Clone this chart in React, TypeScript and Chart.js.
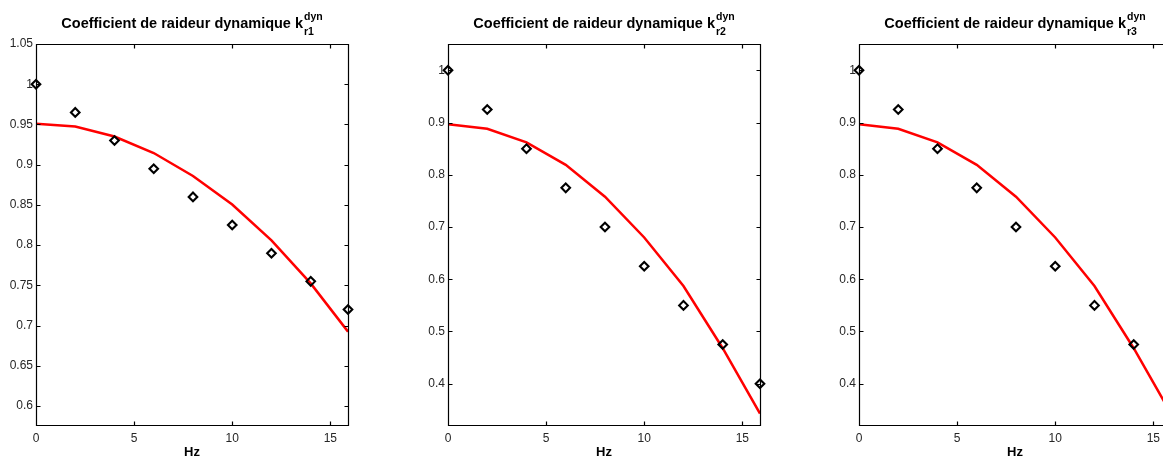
import React, { useEffect, useRef } from 'react';
import { Chart, registerables } from 'chart.js';

Chart.register(...registerables);

// ---- data ----
const FREQ = [0, 2, 4, 6, 8, 10, 12, 14, 15.9];

const K1_MEAS = [1.0, 0.965, 0.93, 0.895, 0.86, 0.825, 0.79, 0.755, 0.72];
const K1_MODEL = [0.951, 0.9475, 0.935, 0.9145, 0.886, 0.8505, 0.806, 0.7525, 0.6925];

const K2_MEAS = [1.0, 0.925, 0.85, 0.775, 0.7, 0.625, 0.55, 0.475, 0.4];
const K2_MODEL = [0.897, 0.888, 0.862, 0.819, 0.758, 0.68, 0.587, 0.468, 0.343];

const K3_MEAS = [1.0, 0.925, 0.85, 0.775, 0.7, 0.625, 0.55, 0.475, 0.4];
const K3_MODEL = [0.897, 0.888, 0.862, 0.819, 0.758, 0.68, 0.587, 0.468, 0.343];

const X_TICKS = [0, 5, 10, 15];
const X_TICK_LABELS = ['0', '5', '10', '15'];

const Y1_TICKS = [0.6, 0.65, 0.7, 0.75, 0.8, 0.85, 0.9, 0.95, 1.0, 1.05];
const Y1_TICK_LABELS = ['0.6', '0.65', '0.7', '0.75', '0.8', '0.85', '0.9', '0.95', '1', '1.05'];

const Y23_TICKS = [0.4, 0.5, 0.6, 0.7, 0.8, 0.9, 1.0];
const Y23_TICK_LABELS = ['0.4', '0.5', '0.6', '0.7', '0.8', '0.9', '1'];

const TITLE_MAIN = 'Coefficient de raideur dynamique k';
const TITLE_SUP = 'dyn';
const TITLE_SUBS = ['r1', 'r2', 'r3'];
const X_LABEL = 'Hz';

const FONT = '"Liberation Sans", Arial, Helvetica, sans-serif';

type PanelProps = {
  left: number;
  meas: number[];
  model: number[];
  yMin: number;
  yMax: number;
  yTicks: number[];
  yLabels: string[];
  sub: string;
};

function Panel({ left, meas, model, yMin, yMax, yTicks, yLabels, sub }: PanelProps) {
  const ref = useRef<HTMLCanvasElement | null>(null);

  useEffect(() => {
    const canvas = ref.current;
    if (!canvas) return;

    const framePlugin = {
      id: 'matlabFrame',
      afterDatasetsDraw(chart: any) {
        const { ctx, chartArea } = chart;
        const l = Math.round(chartArea.left) + 0.5;
        const r = Math.round(chartArea.right) + 0.5;
        const t = Math.round(chartArea.top) + 0.5;
        const b = Math.round(chartArea.bottom) + 0.5;
        const tl = 4;
        ctx.save();
        ctx.strokeStyle = '#000';
        ctx.lineWidth = 1.2;
        ctx.beginPath();
        ctx.rect(l, t, r - l, b - t);
        const xs = chart.scales.x;
        xs.ticks.forEach((tk: any) => {
          const px = Math.round(xs.getPixelForValue(tk.value)) + 0.5;
          ctx.moveTo(px, b);
          ctx.lineTo(px, b - tl);
          ctx.moveTo(px, t);
          ctx.lineTo(px, t + tl);
        });
        const ys = chart.scales.y;
        ys.ticks.forEach((tk: any) => {
          const py = Math.round(ys.getPixelForValue(tk.value)) + 0.5;
          ctx.moveTo(l, py);
          ctx.lineTo(l + tl, py);
          ctx.moveTo(r, py);
          ctx.lineTo(r - tl, py);
        });
        ctx.stroke();
        ctx.restore();
      },
    };

    const titlePlugin = {
      id: 'scriptTitle',
      afterDraw(chart: any) {
        const { ctx, chartArea } = chart;
        ctx.save();
        ctx.fillStyle = '#000';
        ctx.textBaseline = 'alphabetic';
        ctx.textAlign = 'left';
        const mainFont = `bold 14.5px ${FONT}`;
        const scriptFont = `bold 10.5px ${FONT}`;
        ctx.font = mainFont;
        const wMain = ctx.measureText(TITLE_MAIN).width;
        ctx.font = scriptFont;
        const wSup = ctx.measureText(TITLE_SUP).width;
        const wSub = ctx.measureText(sub).width;
        const total = wMain + 1 + Math.max(wSup, wSub);
        const cx = (chartArea.left + chartArea.right) / 2;
        const x0 = cx - total / 2;
        ctx.font = mainFont;
        ctx.fillText(TITLE_MAIN, x0, 28);
        ctx.font = scriptFont;
        ctx.fillText(TITLE_SUP, x0 + wMain + 1, 20);
        ctx.fillText(sub, x0 + wMain + 1, 35);
        ctx.restore();
      },
    };

    const chart = new Chart(canvas, {
      type: 'scatter',
      data: {
        datasets: [
          {
            type: 'scatter',
            data: FREQ.map((x, i) => ({ x, y: meas[i] })),
            pointStyle: 'rectRot',
            pointRadius: 4.3,
            borderWidth: 2.1,
            borderColor: '#000',
            backgroundColor: 'rgba(0,0,0,0)',
            order: 0,
            clip: false,
          } as any,
          {
            type: 'line',
            data: FREQ.map((x, i) => ({ x, y: model[i] })),
            borderColor: '#ff0000',
            borderWidth: 2.5,
            pointRadius: 0,
            tension: 0,
            fill: false,
            order: 1,
          } as any,
        ],
      },
      options: {
        responsive: false,
        maintainAspectRatio: false,
        animation: false,
        events: [],
        layout: { padding: { top: 44, right: 52, left: 0, bottom: 0 } },
        plugins: {
          legend: { display: false },
          tooltip: { enabled: false },
          title: { display: false },
        },
        scales: {
          x: {
            type: 'linear',
            min: 0,
            max: 15.9,
            grid: { display: false, drawTicks: false },
            border: { display: false },
            afterBuildTicks: (s: any) => {
              s.ticks = X_TICKS.map((value) => ({ value }));
            },
            afterFit: (s: any) => {
              s.height = 35;
            },
            ticks: {
              autoSkip: false,
              maxRotation: 0,
              minRotation: 0,
              padding: 6,
              color: '#262626',
              font: { family: FONT, size: 12 },
              callback: (_v: any, i: number) => X_TICK_LABELS[i],
            },
            title: {
              display: true,
              text: X_LABEL,
              color: '#000',
              font: { family: FONT, size: 13, weight: 'bold' },
              padding: { top: 0, bottom: 0 },
            },
          },
          y: {
            type: 'linear',
            min: yMin,
            max: yMax,
            grid: { display: false, drawTicks: false },
            border: { display: false },
            afterBuildTicks: (s: any) => {
              s.ticks = yTicks.map((value) => ({ value }));
            },
            afterFit: (s: any) => {
              s.width = 36;
            },
            ticks: {
              autoSkip: false,
              padding: 3,
              color: '#262626',
              font: { family: FONT, size: 12 },
              callback: (_v: any, i: number) => yLabels[i],
            },
          },
        },
      } as any,
      plugins: [framePlugin, titlePlugin],
    });

    return () => {
      chart.destroy();
    };
  }, [left, meas, model, yMin, yMax, yTicks, yLabels, sub]);

  return (
    <canvas
      ref={ref}
      width={400}
      height={460}
      style={{ position: 'absolute', left, top: 0, width: 400, height: 460, display: 'block' }}
    />
  );
}

export default function App() {
  return (
    <div
      style={{
        position: 'fixed',
        left: 0,
        top: 0,
        width: 1163,
        height: 460,
        overflow: 'hidden',
        background: '#fff',
      }}
    >
      <Panel left={0} meas={K1_MEAS} model={K1_MODEL} yMin={0.5765} yMax={1.05} yTicks={Y1_TICKS} yLabels={Y1_TICK_LABELS} sub={TITLE_SUBS[0]} />
      <Panel left={412} meas={K2_MEAS} model={K2_MODEL} yMin={0.321} yMax={1.0504} yTicks={Y23_TICKS} yLabels={Y23_TICK_LABELS} sub={TITLE_SUBS[1]} />
      <Panel left={823} meas={K3_MEAS} model={K3_MODEL} yMin={0.321} yMax={1.0504} yTicks={Y23_TICKS} yLabels={Y23_TICK_LABELS} sub={TITLE_SUBS[2]} />
    </div>
  );
}
